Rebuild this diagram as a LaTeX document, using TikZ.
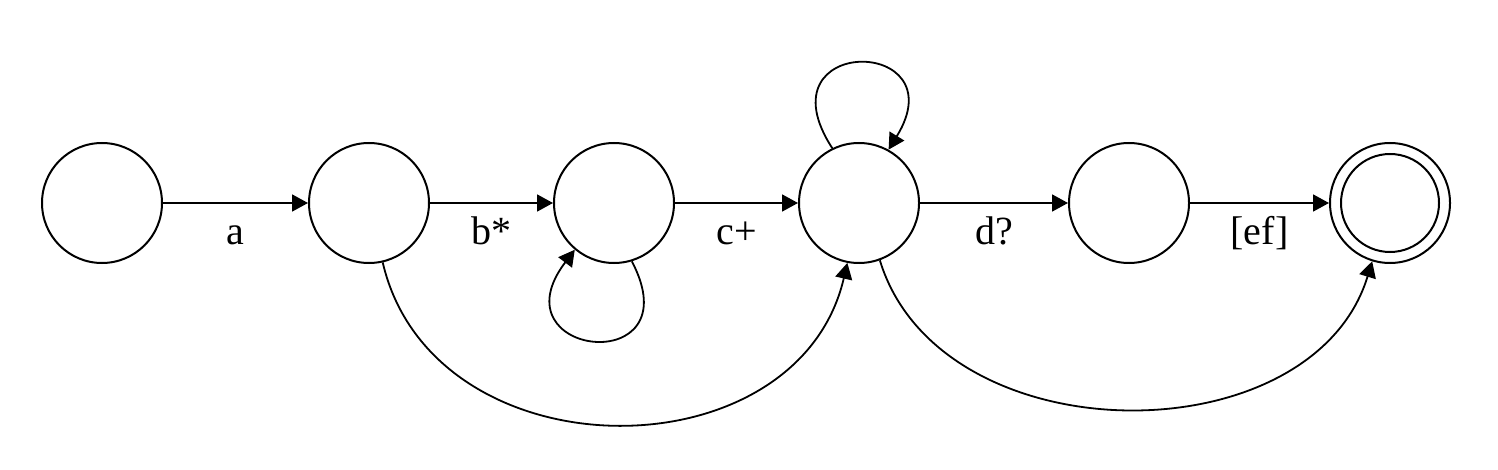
\documentclass[tikz,border=0pt]{standalone}
\usepackage{fontspec}
\setmainfont{Liberation Serif}
\usetikzlibrary{arrows.meta}

\begin{document}
\begin{tikzpicture}[x=0.5pt,y=-0.5pt,
  state/.style={circle, draw=custcol_0_0_0, line width=1pt, minimum size=60pt, inner sep=0pt},
  edge/.style={line width=0.9pt, custcol_0_0_0, -{Triangle[length=8pt,width=8.5pt]}},
  lbl/.style={midway, anchor=base, yshift=-21pt, inner sep=0pt, font=\fontsize{20pt}{24pt}\selectfont}]
\useasboundingbox (0,0) rectangle (1498,470);
\definecolor{custcol_0_0_0}{RGB}{0, 0, 0}
\definecolor{custcol_ff_ff_ff}{RGB}{255, 255, 255}
\fill [custcol_ff_ff_ff] (0,0) rectangle (1498,470);
% states
\node [state] (n1) at (102,203) {};
\node [state] (n2) at (369,203) {};
\node [state] (n3) at (614,203) {};
\node [state] (n4) at (859,203) {};
\node [state] (n5) at (1129,203) {};
\node [state] (n6) at (1390,203) {};
\node [state, minimum size=49pt] (n6in) at (n6) {};
% transitions
\draw [edge] (n1) -- node[lbl] {a} (n2);
\draw [edge] (n2) -- node[lbl] {b*} (n3);
\draw [edge] (n3) -- node[lbl] {c+} (n4);
\draw [edge] (n4) -- node[lbl] {d?} (n5);
\draw [edge] (n5) -- node[lbl] {[ef]} (n6);
\draw [edge] (n3.-73) .. controls +(62,118) and +(-82,108) .. (n3.-130);
\draw [edge] (n4.116) .. controls +(-74,-114) and +(70,-114) .. (n4.61);
\draw [edge] (n2.-77) .. controls +(50,215) and +(-50,215) .. (n4.-101);
\draw [edge] (n4.-70) .. controls +(60,197) and +(-60,197) .. (n6.-107);
\end{tikzpicture}
\end{document}
